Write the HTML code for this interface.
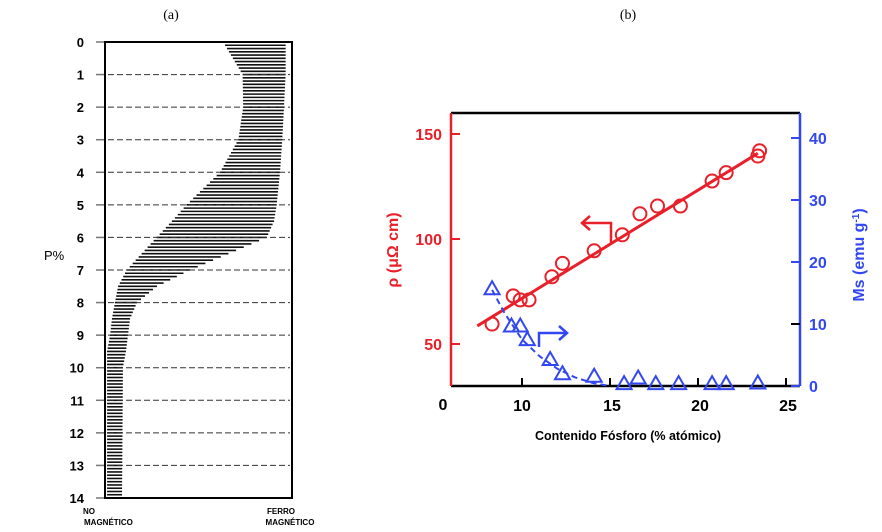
<!DOCTYPE html>
<html><head><meta charset="utf-8"><style>
body{margin:0;background:#fff;width:882px;height:532px;overflow:hidden}
svg{display:block}
text{font-family:"Liberation Sans",Arial,sans-serif}
</style></head><body>
<svg id="s" width="882" height="532" viewBox="0 0 882 532">
<text x="171" y="19" font-size="14" text-anchor="middle" style="font-family:'Liberation Serif',serif">(a)</text>
<text x="628" y="19" font-size="14" text-anchor="middle" style="font-family:'Liberation Serif',serif">(b)</text>
<g id="pa"></g>
<g id="pb"></g>
</svg>
<script>
// Panel (a) data: fraction of width (0 = no magnético, 1 = ferro magnético)
const pLevels=[0.1,1,2,3,4,5,5.5,6,7,7.5,8,8.5,9,9.5,10,14];
const leftEdge=[0.642,0.736,0.739,0.713,0.615,0.436,0.358,0.276,0.116,0.07,0.053,0.037,0.027,0.011,0.011,0.011];
const rightEdge=[0.966,0.966,0.957,0.948,0.936,0.918,0.904,0.865,0.455,0.278,0.171,0.134,0.123,0.112,0.096,0.091];
// Panel (b) data
const pX=[8.3,9.5,9.9,10.4,11.7,12.3,14.1,15.7,16.7,17.7,19.0,20.8,21.6,23.4,23.5];
const rho=[59.5,72.9,71,71,82,88.4,94.4,102,112,115.7,115.7,127.6,131.6,139.5,142];
const fitX=[7.46,23.4];
const fitRho=[58.6,140.8];
const msX=[8.3,9.4,9.9,10.3,11.6,12.3,14.1,15.8,16.6,17.6,18.9,20.8,21.6,23.4];
const ms=[15.6,9.6,9.6,7.4,4.2,1.9,1.5,0.3,1.2,0.3,0.3,0.3,0.3,0.4];
const msCurveX=[8.3,9,10,11,12,13,14,15];
const msCurve=[15.5,11.8,7.5,4.8,2.8,1.4,0.5,0];
const xTicks=[10,15,20,25];
const rhoTicks=[50,100,150];
const msTicks=[0,10,20,30,40];

const NS='http://www.w3.org/2000/svg';
function mk(tag,at,parent,txt){const e=document.createElementNS(NS,tag);for(const k in at)e.setAttribute(k,at[k]);if(txt!==undefined)e.textContent=txt;parent.appendChild(e);return e;}
const pa=document.getElementById('pa'),pb=document.getElementById('pb');

const aL=105,aR=292,aT=42,aB=498;
const ay=p=>aT+p*(aB-aT)/14;
const ax=v=>aL+v*(aR-aL);
function interp(arr,p){for(let i=0;i<pLevels.length-1;i++){if(p<=pLevels[i+1]){const t=(p-pLevels[i])/(pLevels[i+1]-pLevels[i]);return arr[i]+t*(arr[i+1]-arr[i]);}}return arr[arr.length-1];}
for(let k=1;k<=139;k++){const p=k/10;
 const l=mk('line',{x1:ax(interp(leftEdge,p)),x2:ax(interp(rightEdge,p)),y1:ay(p),y2:ay(p),stroke:'#111','stroke-width':1.6},pa);
 
 }
for(let i=0;i<=14;i++){
 const t=mk('text',{x:84,y:ay(i)+5,'font-size':13,'font-weight':'bold','text-anchor':'end'},pa,String(i));
 
 mk('line',{x1:96,x2:aL,y1:ay(i),y2:ay(i),stroke:'#777','stroke-width':1.5},pa);
 if(i>0&&i<14){const d=mk('line',{x1:aL+3,x2:aR-2,y1:ay(i),y2:ay(i),stroke:'#333','stroke-width':1,'stroke-dasharray':'6,3'},pa);
 }
}
mk('rect',{x:aL,y:aT,width:aR-aL,height:aB-aT,fill:'none',stroke:'#000','stroke-width':2},pa);
mk('text',{x:44,y:260,'font-size':13},pa,'P%');
mk('text',{x:83,y:514,'font-size':8,'font-weight':'bold'},pa,'NO');
mk('text',{x:84,y:525,'font-size':8,'font-weight':'bold'},pa,'MAGNÉTICO');
mk('text',{x:281,y:514,'font-size':8,'font-weight':'bold','text-anchor':'middle'},pa,'FERRO');
mk('text',{x:290,y:525,'font-size':8,'font-weight':'bold','text-anchor':'middle'},pa,'MAGNÉTICO');

// Panel b
const bL=451,bR=800,bT=113,bB=386;
const bx=v=>522+(v-10)*17.6;
const by=v=>344-(v-50)*2.1;
const my=v=>386-v*6.2;
const RED='#e8202a',BLUE='#3347f0';
mk('line',{x1:bL,x2:bR,y1:bT,y2:bT,stroke:'#000','stroke-width':2.5},pb);
mk('line',{x1:bL,x2:bR,y1:bB,y2:bB,stroke:'#000','stroke-width':2.5},pb);
mk('line',{x1:bL,x2:bL,y1:bT,y2:bB,stroke:RED,'stroke-width':2.5},pb);
mk('line',{x1:bR,x2:bR,y1:bT,y2:bB,stroke:BLUE,'stroke-width':2.5},pb);
xTicks.forEach(v=>{mk('line',{x1:bx(v),x2:bx(v),y1:bB,y2:bB-8,stroke:'#000','stroke-width':2},pb);
 const t=mk('text',{x:bx(v)+(v===10?0:2),y:bB+25,'font-size':16,'font-weight':'bold','text-anchor':'middle'},pb,String(v));
 });
mk('text',{x:443,y:bB+24,'font-size':16,'font-weight':'bold','text-anchor':'middle'},pb,'0');
rhoTicks.forEach(v=>{mk('line',{x1:bL,x2:bL+9,y1:by(v),y2:by(v),stroke:RED,'stroke-width':2},pb);
 const t=mk('text',{x:bL-9,y:by(v)+6,'font-size':16,'font-weight':'bold',fill:RED,'text-anchor':'end'},pb,String(v));
 });
msTicks.forEach(v=>{mk('line',{x1:bR-9,x2:bR,y1:my(v),y2:my(v),stroke:v===10?'#000':BLUE,'stroke-width':2},pb);
 const t=mk('text',{x:bR+9,y:my(v)+6,'font-size':16,'font-weight':'bold',fill:BLUE},pb,String(v));
 });
mk('text',{x:628,y:440,'font-size':12.5,'font-weight':'bold','text-anchor':'middle'},pb,'Contenido Fósforo (% atómico)');
mk('text',{transform:'translate(398,250) rotate(-90)','font-size':16,'font-weight':'bold',fill:RED,'text-anchor':'middle'},pb,'ρ (μΩ cm)');
const mt=mk('text',{transform:'translate(864,255) rotate(-90)','font-size':16,'font-weight':'bold',fill:BLUE,'text-anchor':'middle'},pb,'Ms (emu g');

mk('tspan',{'baseline-shift':'super','font-size':10},mt,'-1');
mt.appendChild(document.createTextNode(')'));
const fl=mk('line',{x1:bx(fitX[0]),y1:by(fitRho[0]),x2:bx(fitX[1]),y2:by(fitRho[1]),stroke:RED,'stroke-width':3},pb);

const cp=mk('polyline',{points:msCurveX.map((x,i)=>bx(x)+','+my(msCurve[i])).join(' '),fill:'none',stroke:BLUE,'stroke-width':2,'stroke-dasharray':'6,4'},pb);

pX.forEach((x,i)=>{const c=mk('circle',{cx:bx(x),cy:by(rho[i]),r:6.5,fill:'none',stroke:RED,'stroke-width':2},pb);
 });
msX.forEach((x,i)=>{const cx=bx(x),cy=my(ms[i]);
 const t=mk('polygon',{points:`${cx},${cy-8} ${cx-7.5},${cy+5} ${cx+7.5},${cy+5}`,fill:'none',stroke:BLUE,'stroke-width':2},pb);
 });
mk('polyline',{points:'611,243 611,223 582,223',fill:'none',stroke:RED,'stroke-width':2.5},pb);
mk('polyline',{points:'590,216 582,223 590,230',fill:'none',stroke:RED,'stroke-width':2.5},pb);
mk('polyline',{points:'539,347 539,333 567,333',fill:'none',stroke:BLUE,'stroke-width':2.5},pb);
mk('polyline',{points:'559,326 567,333 559,340',fill:'none',stroke:BLUE,'stroke-width':2.5},pb);
</script>
</body></html>
